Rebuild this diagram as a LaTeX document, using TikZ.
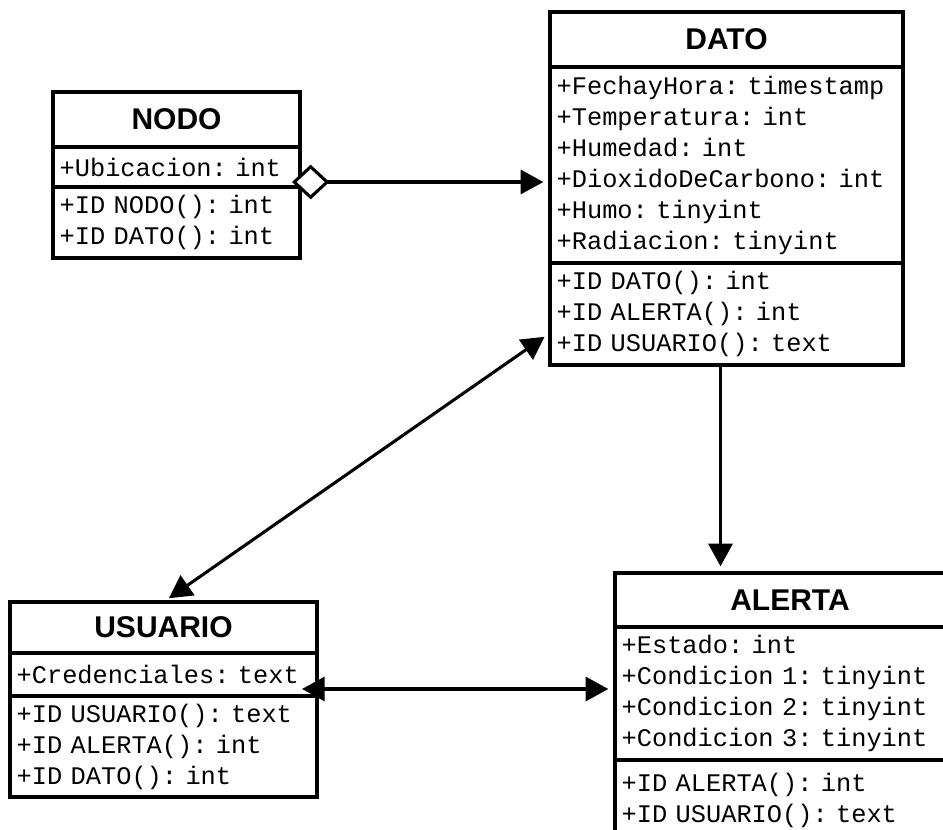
\documentclass[tikz,border=0pt]{standalone}
\usepackage{fontspec}
\usepackage{tikz}
\usetikzlibrary{arrows.meta,calc}
\newfontfamily\classfont{Liberation Sans}
\newfontfamily\memberfont{Liberation Mono}
\newcommand{\memberstyle}{\memberfont\frenchspacing\fontsize{19}{23.25}\selectfont
  \fontdimen2\font=11.4pt\fontdimen3\font=0pt\fontdimen4\font=0pt}
\tikzset{
  >={Triangle[length=17pt,width=18pt]},
  classhead/.style={draw,line width=2.5pt,outer sep=0pt,inner sep=0pt,anchor=north west,
    font=\classfont\bfseries\fontsize{22.5}{27}\selectfont},
  members/.style={draw,line width=2.5pt,outer sep=0pt,inner xsep=5pt,inner ysep=0pt,
    anchor=north west,align=left,font=\memberstyle},
  link/.style={line width=2.3pt},
}

\begin{document}
\begin{tikzpicture}[x=0.75pt,y=-0.75pt]
			\useasboundingbox (0,0) rectangle (943,829);
			\clip (0,0) rectangle (943,829);
			% Clase NODO
			\node[classhead,minimum width=185.25pt,minimum height=41.25pt] (nodo-title) at (53,92) {NODO};
			\node[members,text width=175.25pt,minimum height=30pt] (nodo-attr) at (nodo-title.south west) {+Ubicacion: int};
			\node[members,text width=175.25pt,minimum height=53.25pt] (nodo-ops) at (nodo-attr.south west) {+ID NODO(): int\\+ID DATO(): int};
			% Clase DATO
			\node[classhead,minimum width=264.75pt,minimum height=41.25pt] (dato-title) at (550,12) {DATO};
			\node[members,text width=254.75pt,minimum height=147pt] (dato-attr) at (dato-title.south west)
				{+FechayHora: timestamp\\+Temperatura: int\\+Humedad: int\\+DioxidoDeCarbono: int\\+Humo: tinyint\\+Radiacion: tinyint};
			\node[members,text width=254.75pt,minimum height=76.5pt] (dato-ops) at (dato-attr.south west)
				{+ID DATO(): int\\+ID ALERTA(): int\\+ID USUARIO(): text};
			% Clase USUARIO
			\node[classhead,minimum width=230.25pt,minimum height=38.25pt] (usu-title) at (10,602) {USUARIO};
			\node[members,text width=220.25pt,minimum height=32.25pt] (usu-attr) at (usu-title.south west) {+Credenciales: text};
			\node[members,text width=220.25pt,minimum height=75.75pt] (usu-ops) at (usu-attr.south west)
				{+ID USUARIO(): text\\+ID ALERTA(): int\\+ID DATO(): int};
			% Clase ALERTA
			\node[classhead,minimum width=262.5pt,minimum height=40.5pt] (alerta-title) at (615,573) {ALERTA};
			\node[members,text width=252.5pt,minimum height=99.75pt] (alerta-attr) at (alerta-title.south west)
				{+Estado: int\\+Condicion 1: tinyint\\+Condicion 2: tinyint\\+Condicion 3: tinyint};
			\node[members,text width=252.5pt,minimum height=60pt] (alerta-ops) at (alerta-attr.south west)
				{+ID ALERTA(): int\\+ID USUARIO(): text};
			% Relaciones
			\coordinate (agg) at ($(nodo-attr.south east)+(-8,-5)$);
			\draw[link,{Diamond[fill=white,length=28pt,width=26pt]}->,shorten >=5pt] (agg) -- (agg -| dato-attr.west);
			\draw[link,<->,shorten <=5pt,shorten >=5pt] ($(dato-ops.west)+(0,19)$) -- (usu-title.north);
			\coordinate (dato-out) at ($(dato-ops.south)+(-6,0)$);
			\draw[link,->,shorten >=5pt] (dato-out) -- (dato-out |- alerta-title.north);
			\coordinate (usu-in) at ($(usu-attr.south east)+(-15,-7)$);
			\draw[link,<->,shorten >=5pt] (usu-in) -- (usu-in -| alerta-attr.west);
		\end{tikzpicture}
\end{document}
